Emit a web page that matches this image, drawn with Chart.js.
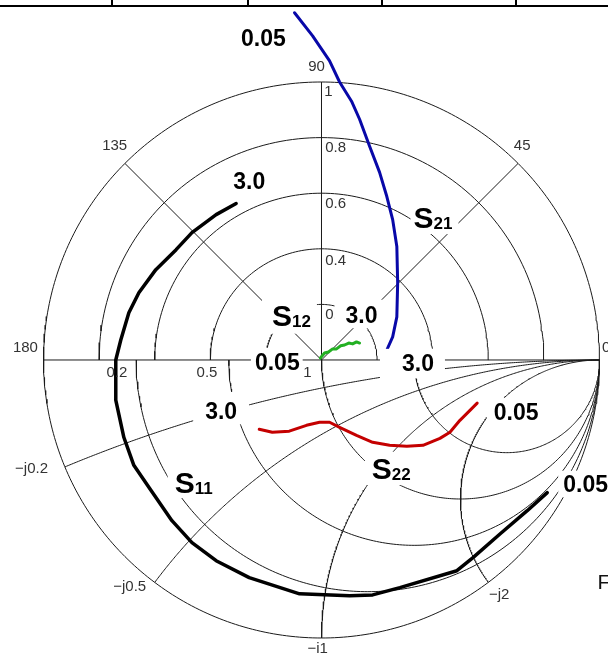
<!DOCTYPE html>
<html><head><meta charset="utf-8">
<script src="https://cdn.jsdelivr.net/npm/chart.js@4/dist/chart.umd.min.js"></script>
<style>html,body{margin:0;padding:0;background:#fff;overflow:hidden}canvas{display:block}</style>
</head><body>
<canvas id="c" width="608" height="653"></canvas>
<script>
// ---- Data: S-parameters (real / imaginary parts), 0.05 GHz -> 3.0 GHz ----
const s11Re = [0.812,0.740,0.643,0.545,0.487,0.282,0.184,0.101,-0.079,-0.260,-0.379,-0.466,-0.538,-0.621,-0.675,-0.711,-0.740,-0.740,-0.722,-0.693,-0.657,-0.596,-0.523,-0.466,-0.379,-0.307];
const s11Im = [-0.477,-0.542,-0.625,-0.711,-0.758,-0.819,-0.845,-0.848,-0.841,-0.783,-0.722,-0.657,-0.578,-0.458,-0.379,-0.278,-0.144,0.000,0.072,0.170,0.242,0.325,0.397,0.458,0.523,0.563];
const s21Re = [-0.097,-0.032,0.029,0.065,0.108,0.137,0.173,0.209,0.235,0.256,0.271,0.274,0.271,0.256,0.227];
const s21Im = [1.249,1.166,1.076,1.000,0.931,0.866,0.769,0.675,0.588,0.505,0.408,0.278,0.155,0.083,0.018];
const s12Re = [-0.004,0.011,0.025,0.040,0.054,0.069,0.083,0.098,0.112,0.126,0.137];
const s12Im = [0.007,0.025,0.029,0.040,0.040,0.051,0.054,0.061,0.058,0.065,0.061];
const s22Re = [0.560,0.534,0.498,0.462,0.426,0.365,0.307,0.245,0.184,0.126,0.065,0.029,-0.007,-0.054,-0.116,-0.177,-0.224];
const s22Im = [-0.155,-0.181,-0.217,-0.260,-0.282,-0.307,-0.310,-0.307,-0.296,-0.271,-0.242,-0.224,-0.224,-0.235,-0.256,-0.260,-0.249];

// ---- Grid definitions ----
const radialTicks = [0.2, 0.4, 0.6, 0.8, 1];
const angleTicks = [45, 90, 135];
const resistanceValues = [0.2, 0.5, 1, 2];
const reactanceValues = [0.2, 0.5, 1, 2];

// ---- Text (tick labels and annotations), anchored in data coordinates ----
const tickLabels = [
  ['90', -0.018, 1.058], ['1', 0.025, 0.968], ['0.8', 0.051, 0.769], ['0.6', 0.051, 0.567],
  ['0.4', 0.051, 0.361], ['0.2', 0.051, 0.166],
  ['135', -0.744, 0.773], ['45', 0.722, 0.773], ['180', -1.065, 0.047], ['0', 1.024, 0.047],
  ['0.2', -0.736, -0.043], ['0.5', -0.412, -0.043], ['1', -0.051, -0.043],
  ['\u2212j0.2', -1.043, -0.386], ['\u2212j0.5', -0.690, -0.812], ['\u2212j1', -0.014, -1.036], ['\u2212j2', 0.639, -0.841]
];
const freqMarks = [
  ['0.05', -0.209, 1.159, [4,4,4,4]],
  ['3.0', -0.260, 0.643, [4,4,4,4]],
  ['3.0', 0.144, 0.162, [11,11,7,5]],
  ['0.05', -0.159, -0.007, [4,3,6,6]],
  ['3.0', 0.347, -0.011, [22,11,6,7]],
  ['3.0', -0.361, -0.184, [12,12,11,5]],
  ['0.05', 0.700, -0.188, [7,6,6,6]],
  ['0.05', 0.950, -0.446, [5,5,5,5]]
];
const seriesNames = [
  ['21', 0.401, 0.513, [3,6,5,6]],
  ['12', -0.108, 0.162, [10,6,5,8]],
  ['22', 0.251, -0.390, [7,8,6,6]],
  ['11', -0.460, -0.440, [7,6,6,5]]
];
const footText = ['F', 0.993, -0.798];
const tableDividers = [112, 248, 382, 516];

// ---- Helpers ----
function zip(re, im) { return re.map((v, i) => ({x: v, y: im[i]})); }
function arc(cx, cy, r, a0, a1, n) {
  const p = [];
  for (let i = 0; i <= n; i++) { const a = a0 + (a1 - a0) * i / n; p.push({x: cx + r * Math.cos(a), y: cy + r * Math.sin(a)}); }
  return p;
}
const gridPaths = [];
radialTicks.forEach(r => { if (r < 1) gridPaths.push(arc(0, 0, r, 0, Math.PI, 120)); });
gridPaths.push(arc(0, 0, 1, 0, 2 * Math.PI, 400));
gridPaths.push([{x: -1, y: 0}, {x: 1, y: 0}]);
angleTicks.forEach(a => { const t = a * Math.PI / 180; gridPaths.push([{x: 0, y: 0}, {x: Math.cos(t), y: Math.sin(t)}]); });
resistanceValues.forEach(r => gridPaths.push(arc(r / (1 + r), 0, 1 / (1 + r), Math.PI, 2 * Math.PI, 200)));
reactanceValues.forEach(X => {
  const gx = (X * X - 1) / (X * X + 1), gy = -2 * X / (X * X + 1);
  let te = Math.atan2(gy + 1 / X, gx - 1);
  if (te < Math.PI / 2) te += 2 * Math.PI;
  gridPaths.push(arc(1, -1 / X, 1 / X, Math.PI / 2, te, 300));
});

const FONT = '"Liberation Sans", Arial, sans-serif';
const labelPlugin = {
  id: 'labels',
  afterDatasetsDraw(chart) {
    const ctx = chart.ctx, sx = chart.scales.x, sy = chart.scales.y;
    const P = (x, y) => [sx.getPixelForValue(x), sy.getPixelForValue(y)];
    ctx.save();
    // tick labels
    ctx.font = '15px ' + FONT; ctx.fillStyle = '#333'; ctx.textAlign = 'center'; ctx.textBaseline = 'alphabetic';
    tickLabels.forEach(([t, x, y]) => { const [px, py] = P(x, y); ctx.fillText(t, px, py + 0.358 * 15); });
    // frequency marks (bold, white box)
    ctx.textAlign = 'left';
    freqMarks.forEach(([t, x, y, pad]) => {
      const [px, py] = P(x, y); const fs = 23; ctx.font = 'bold ' + fs + 'px ' + FONT;
      const w = ctx.measureText(t).width, cap = 0.716 * fs, l = px - w / 2, top = py - cap / 2;
      ctx.fillStyle = '#fff'; ctx.fillRect(l - pad[0], top - pad[2], w + pad[0] + pad[1], cap + pad[2] + pad[3]);
      ctx.fillStyle = '#000'; ctx.fillText(t, l, top + cap);
    });
    // series names S with subscript
    seriesNames.forEach(([sub, x, y, pad]) => {
      const [px, py] = P(x, y);
      ctx.font = 'bold 30px ' + FONT; const wS = ctx.measureText('S').width;
      ctx.font = 'bold 17px ' + FONT; const wB = ctx.measureText(sub).width;
      const w = wS + wB, cap = 0.716 * 30, l = px - w / 2, top = py - cap / 2;
      ctx.fillStyle = '#fff'; ctx.fillRect(l - pad[0], top - pad[2], w + pad[0] + pad[1], cap + pad[2] + pad[3]);
      ctx.fillStyle = '#000';
      ctx.font = 'bold 30px ' + FONT; ctx.fillText('S', l, top + cap);
      ctx.font = 'bold 17px ' + FONT; ctx.fillText(sub, l + wS, top + cap + 1);
    });
    // cut-off caption text at right
    { const [px, py] = P(footText[1], footText[2]); ctx.font = '21px ' + FONT; ctx.fillStyle = '#111'; ctx.fillText(footText[0], px, py + 0.358 * 21); }
    // table border at top
    ctx.fillStyle = '#000';
    ctx.fillRect(0, 5, chart.width, 2);
    tableDividers.forEach(x => ctx.fillRect(x - 1, 0, 2, 6));
    ctx.restore();
  }
};

const datasets = [
  {data: zip(s11Re, s11Im), borderColor: '#000', borderWidth: 3.5},
  {data: zip(s21Re, s21Im), borderColor: '#0808a8', borderWidth: 3},
  {data: zip(s12Re, s12Im), borderColor: '#22b022', borderWidth: 3},
  {data: zip(s22Re, s22Im), borderColor: '#c40000', borderWidth: 3}
].map(d => Object.assign(d, {showLine: true, pointRadius: 0, order: 0, borderJoinStyle: 'round', borderCapStyle: 'round'}));
gridPaths.forEach(p => datasets.push({data: p, showLine: true, pointRadius: 0, borderColor: '#1a1a1a', borderWidth: 1, order: 5}));

new Chart(document.getElementById('c'), {
  type: 'scatter',
  data: {datasets},
  options: {
    responsive: false, animation: false, devicePixelRatio: 1,
    layout: {padding: 0},
    elements: {line: {tension: 0}},
    plugins: {legend: {display: false}, tooltip: {enabled: false}},
    scales: {
      x: {type: 'linear', display: false, min: -1.15647, max: 1.03058},
      y: {type: 'linear', display: false, min: -1.05396, max: 1.29496}
    }
  },
  plugins: [labelPlugin]
});
</script>
</body></html>
